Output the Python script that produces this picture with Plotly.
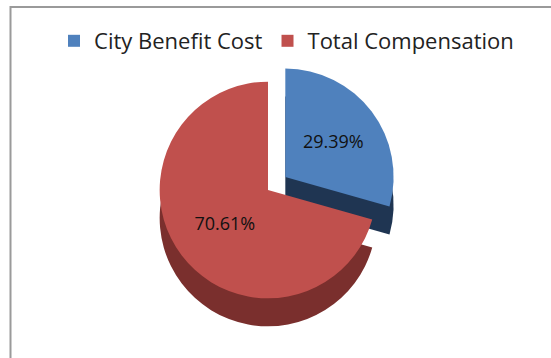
import plotly.graph_objects as go

labels = ["City Benefit Cost", "Total Compensation"]
values = [29.39, 70.61]
top_colors = ["#4F81BD", "#C0504D"]
side_colors = ["#1F3552", "#7A2F2D"]
pulls = [0.2, 0]

W, H = 551, 358
cx, cy = 268, 190
half = 130
depth = 28

def dom(dy):
    return dict(x=[(cx - half) / W, (cx + half) / W],
                y=[1 - (cy + dy + half) / H, 1 - (cy + dy - half) / H])

fig = go.Figure()
fig.add_trace(go.Pie(
    labels=labels, values=values, sort=False, direction="clockwise", rotation=0,
    pull=pulls, marker=dict(colors=side_colors, line=dict(width=0)),
    textinfo="none", showlegend=False, hoverinfo="skip", domain=dom(depth)))
fig.add_trace(go.Pie(
    labels=labels, values=values, sort=False, direction="clockwise", rotation=0,
    pull=pulls, marker=dict(colors=top_colors, line=dict(width=0)),
    texttemplate="%{percent:.2%}", textposition="inside",
    insidetextorientation="horizontal",
    textfont=dict(family="'Open Sans', sans-serif", size=18, color="#111"),
    domain=dom(0)))

fig.update_layout(
    width=W, height=H, margin=dict(l=0, r=0, t=0, b=0),
    paper_bgcolor="white", plot_bgcolor="white",
    legend=dict(orientation="h", x=0.52, xanchor="center", y=1 - 41 / H, yanchor="middle",
                font=dict(family="'Open Sans', sans-serif", size=22, color="#222"),
                itemwidth=30, traceorder="normal"),
    shapes=[dict(type="rect", xref="paper", yref="paper",
                 x0=10.5 / W, x1=1.05, y0=-0.05, y1=1 - 7 / H,
                 line=dict(color="#9a9a9a", width=2), fillcolor="rgba(0,0,0,0)", layer="below")],
)

fig.write_html("out.html")
